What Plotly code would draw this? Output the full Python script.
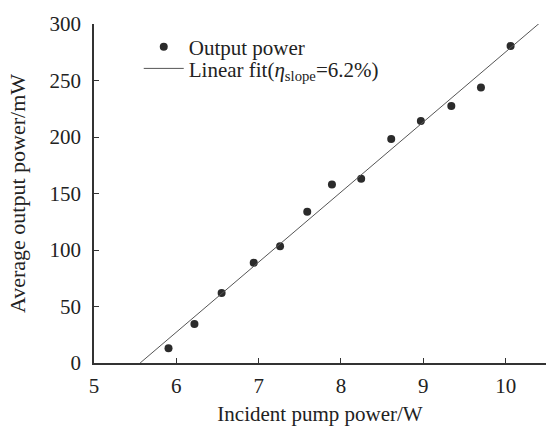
import plotly.graph_objects as go

pump_w = [5.905, 6.22, 6.55, 6.94, 7.26, 7.59, 7.89, 8.245, 8.61, 8.97, 9.34, 9.70, 10.06]
output_mw = [13, 34.5, 62, 88.7, 103.4, 133.8, 158, 163, 198.3, 214.2, 227.5, 243.7, 280.5]

fit_slope = 62.0      # mW per W
fit_threshold = 5.56  # W
fit_x_end = 10.41

fit_x = [fit_threshold, fit_x_end]
fit_y = [fit_slope * (x - fit_threshold) for x in fit_x]

x_ticks = [5, 6, 7, 8, 9, 10]
y_ticks = [0, 50, 100, 150, 200, 250, 300]

FONT = "Liberation Serif"
TXT = "#222222"

fig = go.Figure()
fig.add_trace(go.Scatter(
    x=pump_w, y=output_mw, mode="markers", name="Output power",
    marker=dict(color="#2b2b2b", size=8), legend="legend",
))
fig.add_trace(go.Scatter(
    x=fit_x, y=fit_y, mode="lines",
    name="Linear fit(<i>η</i><sub>slope</sub>=6.2%)",
    line=dict(color="#555555", width=1), legend="legend2",
))

leg_common = dict(xanchor="left", yanchor="middle", bgcolor="rgba(0,0,0,0)",
                  font=dict(family=FONT, size=21, color=TXT), itemwidth=40,
                  borderwidth=0)

fig.update_layout(
    width=546, height=426,
    margin=dict(l=94, r=0, t=24, b=63),
    paper_bgcolor="white", plot_bgcolor="white",
    font=dict(family=FONT, size=21, color=TXT),
    showlegend=True,
    legend=dict(x=0.099, y=0.932, **leg_common),
    legend2=dict(x=0.099, y=0.868, **leg_common),
    xaxis=dict(range=[5, 10.49], tickvals=x_ticks, showgrid=False, zeroline=False,
               showline=True, linecolor="#333333", linewidth=1.5,
               ticks="inside", ticklen=5, tickcolor="#333333",
               ticklabelstandoff=3,
               title=dict(text="Incident pump power/W", standoff=13,
                          font=dict(family=FONT, size=21, color=TXT)),
               tickfont=dict(family=FONT, size=21, color=TXT)),
    yaxis=dict(range=[0, 300], tickvals=y_ticks, showgrid=False, zeroline=False,
               showline=True, linecolor="#333333", linewidth=1.5,
               ticks="inside", ticklen=5, tickcolor="#333333",
               ticklabelstandoff=7,
               title=dict(text="Average output power/mW", standoff=18,
                          font=dict(family=FONT, size=22, color=TXT)),
               tickfont=dict(family=FONT, size=21, color=TXT)),
)

fig.write_html("out.html")
